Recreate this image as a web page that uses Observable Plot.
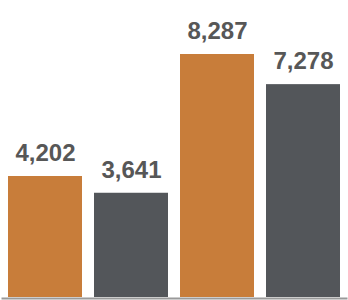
<!DOCTYPE html>
<html>
<head>
<meta charset="utf-8">
<script src="https://cdn.jsdelivr.net/npm/d3@7"></script>
<script src="https://cdn.jsdelivr.net/npm/@observablehq/plot@0.6"></script>
<style>
  body { margin: 0; background: #fff; }
</style>
</head>
<body>
<div id="chart"></div>
<script>
const categories = ["A1", "B1", "A2", "B2"];
const values = [4202, 3641, 8287, 7278];
const colors = ["#C87D3A", "#53565A", "#C87D3A", "#53565A"];

const data = categories.map((c, i) => ({ cat: c, value: values[i], color: colors[i] }));

const chart = Plot.plot({
  width: 348,
  height: 300,
  marginTop: 0,
  marginBottom: 3,
  marginLeft: 2,
  marginRight: 2,
  style: { background: "#fff", fontFamily: "'Liberation Sans', Arial, sans-serif" },
  x: { domain: categories, axis: null, paddingInner: 0.14, paddingOuter: 0.07 },
  y: { domain: [0, 8287], range: [301.5, 54], axis: null },
  marks: [
    Plot.barY(data, { x: "cat", y: "value", fill: "color", clip: true }),
    Plot.text(data, {
      x: "cat", y: "value", text: d => d3.format(",")(d.value),
      dy: -23, fill: "#575757", fontSize: 24, fontWeight: "bold"
    }),
    Plot.frame({ anchor: "bottom", stroke: "#9a9a9a", strokeWidth: 2, dy: 1 })
  ]
});
document.getElementById("chart").appendChild(chart);
</script>
</body>
</html>
